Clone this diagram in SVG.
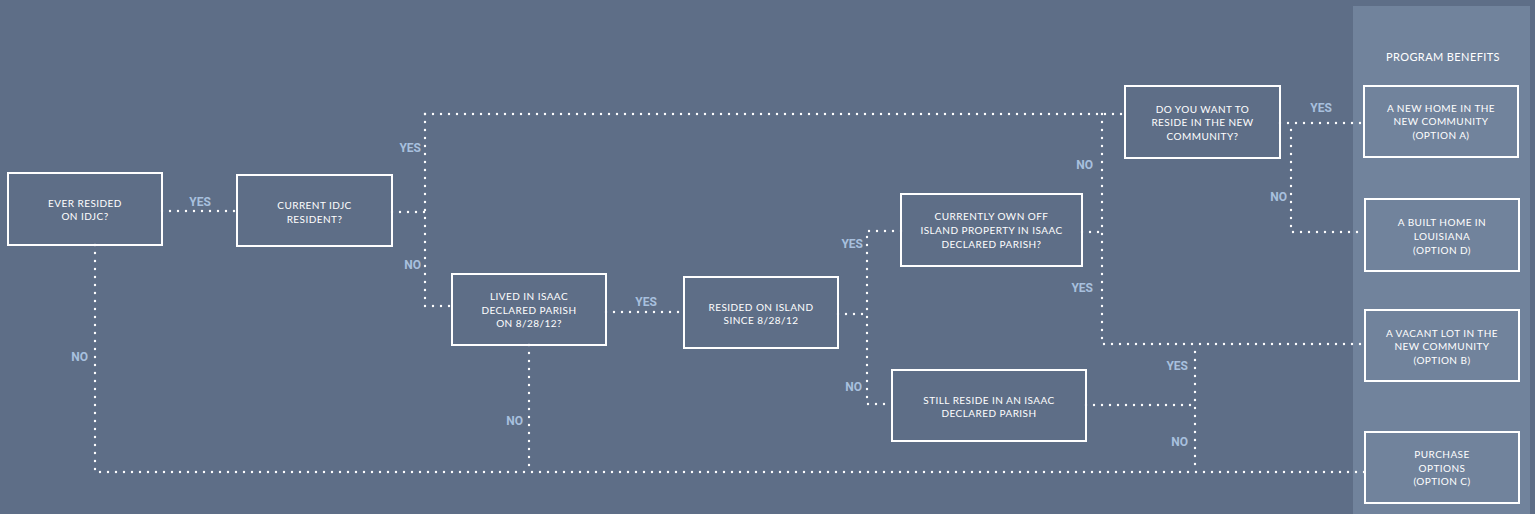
<svg xmlns="http://www.w3.org/2000/svg" width="1535" height="514" viewBox="0 0 1535 514">
<style>
.bg{fill:#5e6e87}
.panel{fill:#71839c}
.box{fill:none;stroke:#ffffff;stroke-width:2}
.t{font-family:Lato,"Liberation Sans",sans-serif;font-size:10px;letter-spacing:0.45px;fill:#ffffff;text-anchor:middle}
.h{font-family:Lato,"Liberation Sans",sans-serif;font-size:11px;letter-spacing:0.4px;fill:#ffffff;text-anchor:middle}
.c{fill:none;stroke:#ffffff;stroke-width:2.4;stroke-linecap:round;stroke-dasharray:0 8}
.l{font-family:Roboto,"Liberation Sans",sans-serif;font-weight:bold;font-size:12px;fill:#a8c0de;text-anchor:end}
.lm{text-anchor:middle}
</style>
<rect class="bg" x="0" y="0" width="1535" height="514"/>
<rect class="panel" x="1353" y="6" width="177" height="508"/>
<text class="h" x="1443" y="61">PROGRAM BENEFITS</text>

<g id="connectors">
<path class="c" d="M162 211 H237"/>
<path class="c" d="M392 212 H425"/>
<path class="c" d="M425 114 V306 H452"/>
<path class="c" d="M425 114 H1125"/>
<path class="c" d="M606 312 H684"/>
<path class="c" d="M838 314 H867"/>
<path class="c" d="M901 231 H867 V404 H892"/>
<path class="c" d="M1082 232 H1102"/>
<path class="c" d="M1102 114 V344 H1365"/>
<path class="c" d="M1086 405 H1195"/>
<path class="c" d="M1195 352 V472"/>
<path class="c" d="M95 245 V472 H1365"/>
<path class="c" d="M529 345 V472"/>
<path class="c" d="M1280 123 H1364"/>
<path class="c" d="M1291 130 V232 H1365"/>
</g>

<g id="labels">
<text class="l lm" x="200" y="206">YES</text>
<text class="l" x="421" y="152">YES</text>
<text class="l" x="421" y="269">NO</text>
<text class="l lm" x="646" y="306">YES</text>
<text class="l" x="863" y="248">YES</text>
<text class="l" x="862" y="391">NO</text>
<text class="l" x="1093" y="292">YES</text>
<text class="l" x="1093" y="169">NO</text>
<text class="l" x="1188" y="370">YES</text>
<text class="l" x="1188" y="446">NO</text>
<text class="l lm" x="1321" y="112">YES</text>
<text class="l" x="1287" y="201">NO</text>
<text class="l" x="88" y="361">NO</text>
<text class="l" x="523" y="425">NO</text>
</g>

<g id="n1"><rect class="box" x="8" y="173" width="154" height="72"/>
<text class="t" x="85" y="207">EVER RESIDED</text><text class="t" x="85" y="220">ON IDJC?</text></g>
<g id="n2"><rect class="box" x="237" y="175" width="155" height="71"/>
<text class="t" x="314.5" y="209">CURRENT IDJC</text><text class="t" x="314.5" y="223">RESIDENT?</text></g>
<g id="n3"><rect class="box" x="452" y="274" width="154" height="71"/>
<text class="t" x="529" y="300">LIVED IN ISAAC</text><text class="t" x="529" y="314">DECLARED PARISH</text><text class="t" x="529" y="327">ON 8/28/12?</text></g>
<g id="n4"><rect class="box" x="684" y="277" width="154" height="71"/>
<text class="t" x="761" y="311">RESIDED ON ISLAND</text><text class="t" x="761" y="324">SINCE 8/28/12</text></g>
<g id="n5"><rect class="box" x="901" y="194" width="181" height="72"/>
<text class="t" x="991.5" y="220">CURRENTLY OWN OFF</text><text class="t" x="991.5" y="234">ISLAND PROPERTY IN ISAAC</text><text class="t" x="991.5" y="248">DECLARED PARISH?</text></g>
<g id="n6"><rect class="box" x="892" y="370" width="194" height="71"/>
<text class="t" x="989" y="404">STILL RESIDE IN AN ISAAC</text><text class="t" x="989" y="417">DECLARED PARISH</text></g>
<g id="n7"><rect class="box" x="1125" y="86" width="155" height="72"/>
<text class="t" x="1202.5" y="113">DO YOU WANT TO</text><text class="t" x="1202.5" y="126">RESIDE IN THE NEW</text><text class="t" x="1202.5" y="140">COMMUNITY?</text></g>
<g id="n8"><rect class="box" x="1364" y="86" width="154" height="71"/>
<text class="t" x="1441" y="112">A NEW HOME IN THE</text><text class="t" x="1441" y="125">NEW COMMUNITY</text><text class="t" x="1441" y="139">(OPTION A)</text></g>
<g id="n9"><rect class="box" x="1365" y="199" width="154" height="72"/>
<text class="t" x="1442" y="226">A BUILT HOME IN</text><text class="t" x="1442" y="240">LOUISIANA</text><text class="t" x="1442" y="254">(OPTION D)</text></g>
<g id="n10"><rect class="box" x="1365" y="310" width="154" height="71"/>
<text class="t" x="1442" y="337">A VACANT LOT IN THE</text><text class="t" x="1442" y="350">NEW COMMUNITY</text><text class="t" x="1442" y="364">(OPTION B)</text></g>
<g id="n11"><rect class="box" x="1365" y="432" width="154" height="71"/>
<text class="t" x="1442" y="458">PURCHASE</text><text class="t" x="1442" y="472">OPTIONS</text><text class="t" x="1442" y="485">(OPTION C)</text></g>
</svg>
